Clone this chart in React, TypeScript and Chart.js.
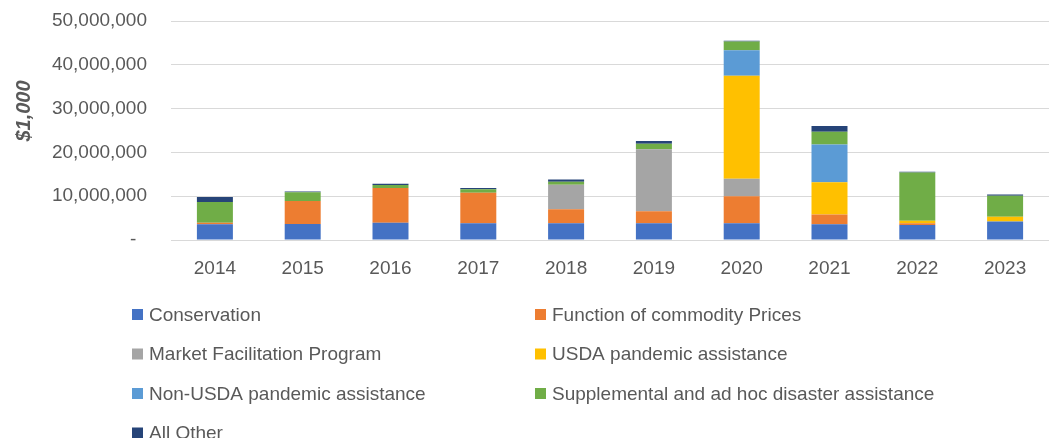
import React, { useEffect, useRef } from "react";
import { Chart, registerables } from "chart.js";

Chart.register(...registerables);

const years = ["2014", "2015", "2016", "2017", "2018", "2019", "2020", "2021", "2022", "2023"];

// values in $1,000
const conservation = [3600000, 3650000, 3950000, 3800000, 3800000, 3800000, 3800000, 3600000, 3400000, 4200000];
const commodityPrices = [350000, 5250000, 7900000, 7000000, 3200000, 2750000, 6200000, 2200000, 450000, 50000];
const marketFacilitation = [0, 0, 0, 0, 5600000, 14150000, 4000000, 0, 0, 0];
const usdaPandemic = [0, 0, 0, 0, 0, 0, 23500000, 7400000, 550000, 1050000];
const nonUsdaPandemic = [0, 0, 0, 0, 0, 0, 5800000, 8600000, 0, 0];
const supplementalDisaster = [4750000, 2000000, 700000, 800000, 700000, 1300000, 2000000, 2900000, 11000000, 4800000];
const allOther = [1100000, 200000, 300000, 300000, 500000, 600000, 200000, 1300000, 200000, 300000];

const seriesNames = [
  "Conservation",
  "Function of commodity Prices",
  "Market Facilitation Program",
  "USDA pandemic assistance",
  "Non-USDA pandemic assistance",
  "Supplemental and ad hoc disaster assistance",
  "All Other",
];
const seriesColors = ["#4472C4", "#ED7D31", "#A5A5A5", "#FFC000", "#5B9BD5", "#70AD47", "#264478"];
const seriesValues = [conservation, commodityPrices, marketFacilitation, usdaPandemic, nonUsdaPandemic, supplementalDisaster, allOther];

const yTitle = "$1,000";
const FONT = "'Liberation Sans', Arial, sans-serif";
const TEXT = "#595959";

const extrasPlugin = {
  id: "extras",
  afterDraw(chart: any) {
    const ctx = chart.ctx;
    ctx.save();
    // y axis title
    ctx.translate(24, 111);
    ctx.rotate(-Math.PI / 2);
    ctx.font = `italic bold 20px ${FONT}`;
    ctx.fillStyle = TEXT;
    ctx.textAlign = "center";
    ctx.textBaseline = "middle";
    ctx.fillText(yTitle, 0, 0);
    ctx.restore();

    // legend
    ctx.save();
    ctx.font = `19px ${FONT}`;
    ctx.textBaseline = "middle";
    ctx.textAlign = "left";
    chart.data.datasets.forEach((ds: any, i: number) => {
      const col = i % 2;
      const row = Math.floor(i / 2);
      const x = col === 0 ? 132 : 535;
      const cy = 314.5 + row * 39.5;
      ctx.fillStyle = ds.backgroundColor;
      ctx.fillRect(x, cy - 5.5, 11, 11);
      ctx.fillStyle = TEXT;
      ctx.fillText(ds.label, x + 17, cy + 1);
    });
    ctx.restore();
  },
};

export default function App() {
  const ref = useRef<HTMLCanvasElement>(null);
  useEffect(() => {
    if (!ref.current) return;
    const chart = new Chart(ref.current, {
      type: "bar",
      data: {
        labels: years,
        datasets: seriesNames.map((name, i) => ({
          label: name,
          data: seriesValues[i],
          backgroundColor: seriesColors[i],
          borderWidth: 0,
          categoryPercentage: 1,
          barPercentage: 0.41,
        })),
      },
      options: {
        animation: false,
        responsive: true,
        maintainAspectRatio: false,
        layout: { padding: { left: 0, right: 6, top: 21, bottom: 158 } },
        plugins: {
          legend: { display: false },
          tooltip: { enabled: false },
          title: { display: false },
        },
        scales: {
          x: {
            stacked: true,
            grid: { display: false, drawTicks: false },
            border: { display: false },
            ticks: { color: TEXT, font: { family: FONT, size: 19 }, padding: 17 },
            afterFit: (s: any) => {
              s.height = 40;
              s.paddingLeft = 0;
              s.paddingRight = 0;
            },
          },
          y: {
            stacked: true,
            min: 0,
            max: 50000000,
            grid: { color: "#D9D9D9", lineWidth: 1, drawTicks: false },
            border: { display: false },
            ticks: {
              stepSize: 10000000,
              color: TEXT,
              font: { family: FONT, size: 19 },
              padding: 24,
              callback: (v: any) => (Number(v) === 0 ? "-  " : Number(v).toLocaleString("en-US")),
            },
            afterFit: (s: any) => {
              s.width = 171;
              s.paddingTop = 0;
              s.paddingBottom = 0;
            },
          },
        },
      },
      plugins: [extrasPlugin],
    });
    return () => chart.destroy();
  }, []);
  return (
    <div style={{ position: "fixed", left: 0, top: 0, width: 1055, height: 438, background: "#fff" }}>
      <canvas ref={ref} />
    </div>
  );
}
